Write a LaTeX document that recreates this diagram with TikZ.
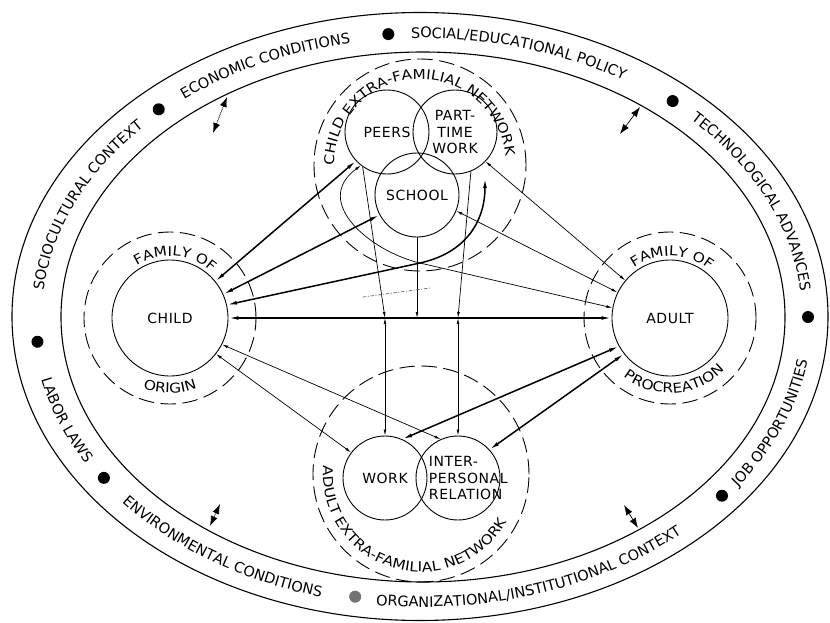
\documentclass[tikz,border=0pt]{standalone}
\usepackage{fontspec}
\setmainfont{DejaVu Sans}
\newfontfamily\lblfont[LetterSpace=4]{DejaVu Sans}
\newfontfamily\bandfamily{DejaVu Sans}
\newfontfamily\ringfamily[FakeStretch=1.14]{DejaVu Sans}
\usetikzlibrary{arrows.meta, decorations.text}

\begin{document}
\begin{tikzpicture}[x=1pt, y=1pt, line cap=round,
    >={Latex[length=6pt, width=2.8pt]},
    unit/.style={circle, draw, line width=0.9pt, minimum size=84pt, inner sep=0pt, align=center, font=\unitfont},
    home/.style={unit, minimum size=116pt},
    ring/.style={circle, draw, dash pattern=on 15pt off 7pt, line width=0.9pt, inner sep=0pt},
    strong/.style={line width=1.5pt, >={Latex[length=10pt, width=3.8pt]}},
    weak/.style={line width=0.7pt},
    nudge/.style={line width=0.7pt, <->, >={Latex[length=10pt, width=7pt]}},
]

    % Fonts
    \def\unitfont{\lblfont\fontsize{14}{16.5}\selectfont}
    \def\bandfont{\bandfamily\fontsize{14.5}{17}\selectfont}
    \def\ringfont{\ringfamily\fontsize{13.5}{16}\selectfont}

    % Page
    \fill[white] (-420,-305) rectangle (410,317);
    \useasboundingbox (-420,-305) rectangle (410,317);

    % Context band
    \draw[line width=1.1pt] (0,0.5) ellipse [x radius=408, y radius=304];
    \draw[line width=1.1pt] (3,0) ellipse [x radius=362, y radius=265];

    % Bullets
    \foreach \t in {185,133,95,49.5,0,-39,214.5}{
        \fill ({2+386*cos(\t)},{284*sin(\t)}) circle (6);
    }
    \fill[black!55] ({2+385*cos(-100)},{284*sin(-100)}) circle (6);

    % Band labels, upper half (clockwise)
    \path[decorate, decoration={text along path, text align=center, text={|\bandfont|SOCIOCULTURAL CONTEXT}}]
        (2,0) ++(198:380 and 279) arc[start angle=198, end angle=118, x radius=380, y radius=279];
    \path[decorate, decoration={text along path, text align=center, text={|\bandfont|ECONOMIC CONDITIONS}}]
        (2,0) ++(157:380 and 279) arc[start angle=157, end angle=77, x radius=380, y radius=279];
    \path[decorate, decoration={text along path, text align=center, text={|\bandfont|SOCIAL/EDUCATIONAL POLICY}}]
        (2,0) ++(113.5:380 and 279) arc[start angle=113.5, end angle=33.5, x radius=380, y radius=279];
    \path[decorate, decoration={text along path, text align=center, text={|\bandfont|TECHNOLOGICAL ADVANCES}}]
        (2,0) ++(63:380 and 279) arc[start angle=63, end angle=-17, x radius=380, y radius=279];

    % Band labels, lower half (counterclockwise)
    \path[decorate, decoration={text along path, text align=center, text={|\bandfont|JOB OPPORTUNITIES}}]
        (2,0) ++(-60:390 and 290) arc[start angle=-60, end angle=20, x radius=390, y radius=290];
    \path[decorate, decoration={text along path, text align=center, text={|\bandfont|ORGANIZATIONAL/INSTITUTIONAL CONTEXT}}]
        (2,0) ++(-116:390 and 290) arc[start angle=-116, end angle=-26, x radius=390, y radius=290];
    \path[decorate, decoration={text along path, text align=center, text={|\bandfont|ENVIRONMENTAL CONDITIONS}}]
        (2,0) ++(195:390 and 290) arc[start angle=195, end angle=275, x radius=390, y radius=290];
    \path[decorate, decoration={text along path, text align=center, text={|\bandfont|LABOR LAWS}}]
        (2,0) ++(170:390 and 290) arc[start angle=170, end angle=230, x radius=390, y radius=290];

    % Units
    \node[home] (child) at (-250,-1) {CHILD};
    \node[home] (adult) at (250,-1) {ADULT};
    \node[unit] (peers) at (-33,185) {PEERS};
    \node[unit] (ptwork) at (35,185) {PART-\\TIME\\WORK};
    \node[unit] (school) at (-3,122) {SCHOOL};
    \node[unit] (work) at (-35,-161) {WORK};
    \node[unit, text width=58pt, align=left] (inter) at (38,-161) {INTER-\\PERSONAL\\RELATION};

    % Dashed rings
    \node[ring, minimum size=172pt] (childhome) at (child) {};
    \node[ring, minimum size=172pt] (adulthome) at (adult) {};
    \node[ring, minimum size=212pt] (childnet) at (0,152) {};
    \node[ring, minimum size=216pt] (adultnet) at (1,-157) {};

    % Ring labels
    \path[decorate, decoration={text along path, text align=center, text={|\ringfont|FAMILY OF}}]
        (child) ++(135:62) arc[start angle=135, end angle=35, radius=62];
    \path[decorate, decoration={text along path, text align=center, text={|\ringfont|ORIGIN}}]
        (child) ++(220:75) arc[start angle=220, end angle=320, radius=75];
    \path[decorate, decoration={text along path, text align=center, text={|\ringfont|FAMILY OF}}]
        (adult) ++(138:62) arc[start angle=138, end angle=38, radius=62];
    \path[decorate, decoration={text along path, text align=center, text={|\ringfont|PROCREATION}}]
        (adult) ++(214:75) arc[start angle=214, end angle=334, radius=75];
    \path[decorate, decoration={text along path, text align=center, text={|\ringfont|CHILD EXTRA-FAMILIAL NETWORK}}]
        (childnet) ++(180:86) arc[start angle=180, end angle=6, radius=86];
    \path[decorate, decoration={text along path, text align=center, text={|\ringfont|ADULT EXTRA-FAMILIAL NETWORK}}]
        (adultnet) ++(160:98) arc[start angle=160, end angle=346, radius=98];

    % Links of the child
    \coordinate (cross) at (0,54);
    \draw[strong, <->] (child.39) -- (peers.223);
    \draw[strong, <->] (child.24) -- (school.208);
    \draw[strong, <->] (child.13) -- (cross) .. controls +(12.5:50) and +(0,-40) .. ([yshift=-16pt]ptwork.-45);
    \draw[strong, <->] (child.0) -- (adult.180);
    \draw[weak, <->] (child.-38) -- (work.143);
    \draw[weak, <->] (child.-27) -- (inter.114);

    % Links of the adult
    \draw[weak, <->] (peers.232) .. controls +(-50,-37) and +(-48,11) .. (cross) -- (adult.170);
    \draw[weak, <->] (school.-22) -- (adult.154);
    \draw[weak, <->] (ptwork.-44) -- (adult.140);
    \draw[strong, <->] (work.66) -- (adult.209);
    \draw[strong, <->] (inter.42) -- (adult.218);

    % Down to the child-adult line
    \draw[weak, ->] (peers.235) -- (work.north |- child.east);
    \draw[weak, ->] (school.south) -- (school.south |- child.east);
    \draw[weak, ->] (ptwork.-68) -- (inter.north |- child.east);
    \draw[weak, <->] (work.north |- child.east) -- (work.north);
    \draw[weak, <->] (inter.north |- child.east) -- (inter.north);
    \draw[weak, black!60, dash dot] (-57,20) -- (10,29);

    % Context exchange
    \draw[nudge, densely dotted] (-207,184) -- (-193,220);
    \draw[nudge] (200,183) -- (220,210);
    \draw[nudge, densely dotted] (-200,-187) -- (-210,-209);
    \draw[nudge] (204,-188) -- (218,-211);

\end{tikzpicture}
\end{document}
